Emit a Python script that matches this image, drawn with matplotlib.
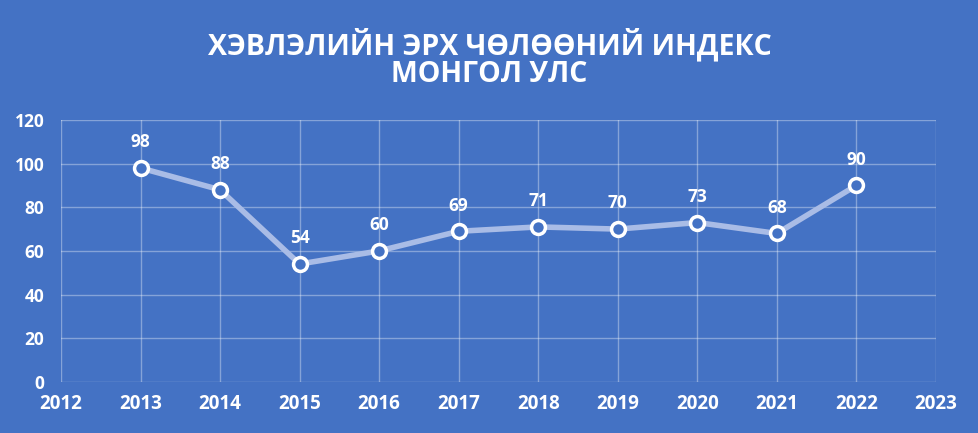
import matplotlib.pyplot as plt

years = [2013, 2014, 2015, 2016, 2017, 2018, 2019, 2020, 2021, 2022]
index = [98, 88, 54, 60, 69, 71, 70, 73, 68, 90]
x_ticks = list(range(2012, 2024))
y_ticks = [0, 20, 40, 60, 80, 100, 120]

bg = "#4472C4"
plt.rcParams['font.family'] = ['Open Sans', 'DejaVu Sans']

fig = plt.figure(figsize=(9.79, 4.33), dpi=100, facecolor=bg)
ax = fig.add_axes([0.0623, 0.118, 0.8937, 0.605], facecolor=bg)

ax.plot(years, index, color="#A9BCE6", lw=4, zorder=3, solid_capstyle="round",
        marker="o", markersize=10, markerfacecolor=bg, markeredgecolor="white",
        markeredgewidth=2.5)

for x, y in zip(years, index):
    ax.annotate(str(y), (x, y), xytext=(0, 12), textcoords="offset points",
                ha="center", va="bottom", color="white", fontsize=12.5, fontweight="bold")

ax.set_xlim(2012, 2023)
ax.set_ylim(0, 120)
ax.set_xticks(x_ticks)
ax.set_yticks(y_ticks)
ax.grid(True, color="white", alpha=0.35, lw=1)
for s in ax.spines.values():
    s.set_visible(False)
ax.tick_params(length=0, colors="white")
ax.tick_params(axis="x", pad=9, labelsize=13.5)
ax.tick_params(axis="y", pad=12, labelsize=12.5)
for lbl in ax.get_xticklabels() + ax.get_yticklabels():
    lbl.set_fontweight("bold")

fig.text(0.5, 0.897, "ХЭВЛЭЛИЙН ЭРХ ЧӨЛӨӨНИЙ ИНДЕКС", ha="center", va="center",
         color="white", fontsize=20.5, fontweight="bold")
fig.text(0.5, 0.827, "МОНГОЛ УЛС", ha="center", va="center",
         color="white", fontsize=20.5, fontweight="bold")

fig.savefig("out.png", facecolor=bg)
